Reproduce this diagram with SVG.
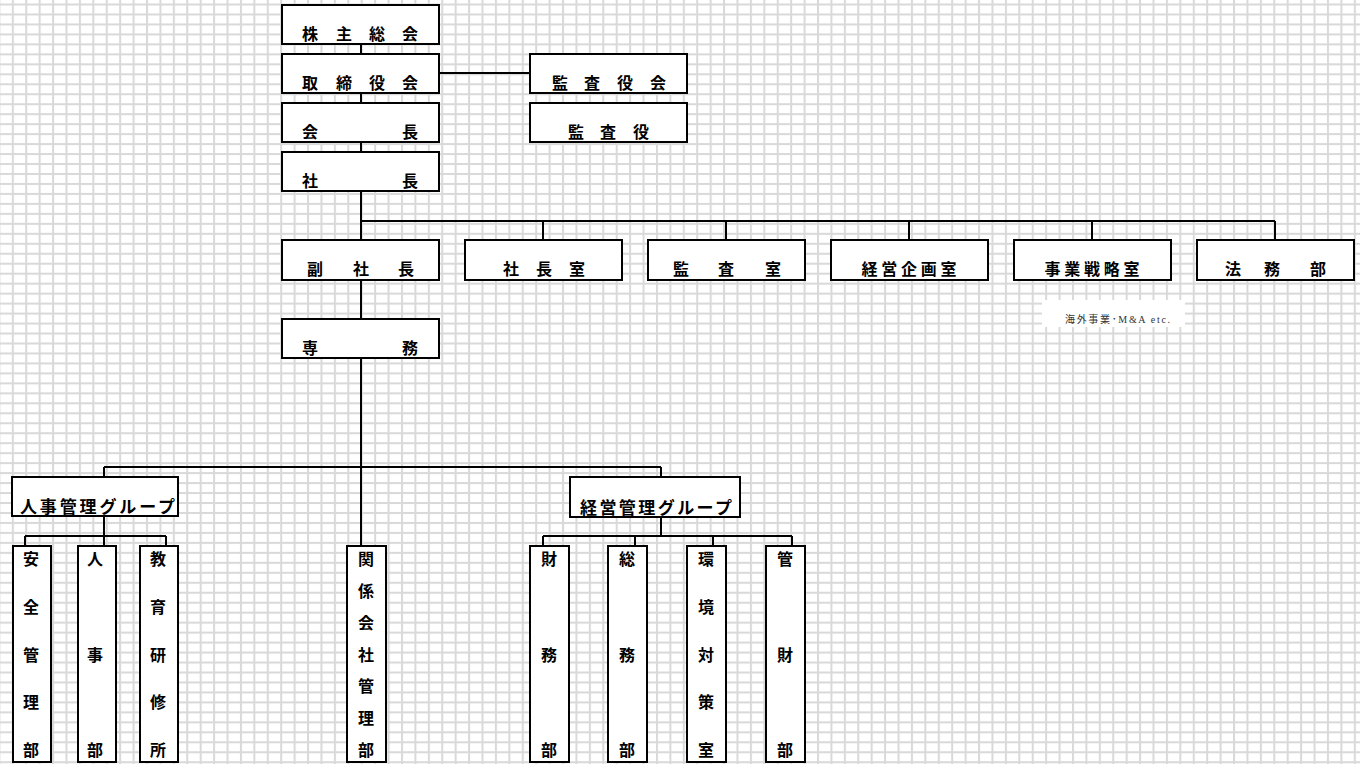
<svg xmlns="http://www.w3.org/2000/svg" width="1360" height="764" viewBox="0 0 1360 764">
<defs>
<pattern id="grid" patternUnits="userSpaceOnUse" x="11.8" y="3.5" width="13.42" height="9.97">
<rect x="0" y="0" width="13.42" height="9.97" fill="#ffffff"/>
<rect x="0" y="0" width="2" height="9.97" fill="#d9d9d9"/>
<rect x="0" y="0" width="13.42" height="2" fill="#d9d9d9"/>
</pattern>
</defs>
<style>
.box{fill:#ffffff;stroke:#000000;stroke-width:2}
.t{font-family:"Noto Sans CJK JP","Noto Sans",sans-serif;font-size:16px;font-weight:700;fill:#000000;text-anchor:middle}
.g{font-family:"Noto Sans CJK JP","Noto Sans",sans-serif;font-size:17px;font-weight:700;fill:#000000}
.note{font-family:"Liberation Serif","Noto Sans CJK JP",serif;font-size:10px;fill:#333333}
.c{stroke:#000000;stroke-width:2;fill:none}
</style>
<rect x="0" y="0" width="1360" height="764" fill="url(#grid)"/>

<g id="connectors">
<path class="c" d="M361 44V54M361 93V103M361 142V152M361 191V240M439 73H530"/>
<path class="c" d="M361 221H1275M543 221V240M726 221V240M909 221V240M1092 221V240M1275 221V240"/>
<path class="c" d="M361 280V319M361 358V546"/>
<path class="c" d="M104 467H661M104 467V477M661 467V477"/>
<path class="c" d="M104 516V546M25 536H166M25 536V546M166 536V546"/>
<path class="c" d="M661 517V536M543 536H792M543 536V546M635 536V546M713 536V546M792 536V546"/>
</g>

<g id="kabunushi"><rect class="box" x="282" y="5" width="157" height="39"/><text class="t" x="310 344 377 410" y="40">株主総会</text></g>
<g id="torishimariyakukai"><rect class="box" x="282" y="54" width="157" height="39"/><text class="t" x="310 344 377 410" y="89">取締役会</text></g>
<g id="kaicho"><rect class="box" x="282" y="103" width="157" height="39"/><text class="t" x="310 410" y="138">会長</text></g>
<g id="shacho"><rect class="box" x="282" y="152" width="157" height="39"/><text class="t" x="310 410" y="187">社長</text></g>
<g id="kansayakukai"><rect class="box" x="530" y="54" width="157" height="39"/><text class="t" x="560 592 625 658" y="89">監査役会</text></g>
<g id="kansayaku"><rect class="box" x="530" y="103" width="157" height="39"/><text class="t" x="576 608 641" y="138">監査役</text></g>

<g id="fukushacho"><rect class="box" x="282" y="240" width="157" height="40"/><text class="t" x="315 361 406" y="275">副社長</text></g>
<g id="shachoshitsu"><rect class="box" x="465" y="240" width="157" height="40"/><text class="t" x="511 544 577" y="275">社長室</text></g>
<g id="kansashitsu"><rect class="box" x="648" y="240" width="157" height="40"/><text class="t" x="681 726 773" y="275">監査室</text></g>
<g id="keieikikaku"><rect class="box" x="831" y="240" width="157" height="40"/><text class="t" x="909" y="275" textLength="95">経営企画室</text></g>
<g id="jigyosenryaku"><rect class="box" x="1014" y="240" width="157" height="40"/><text class="t" x="1092" y="275" textLength="95">事業戦略室</text></g>
<g id="homubu"><rect class="box" x="1197" y="240" width="157" height="40"/><text class="t" x="1233 1272 1318" y="275">法務部</text></g>

<g id="note"><rect x="1042" y="300" width="143" height="27" fill="#ffffff"/><text class="note" x="1065" y="323" textLength="105">海外事業･M&amp;A etc.</text></g>

<g id="senmu"><rect class="box" x="282" y="319" width="157" height="39"/><text class="t" x="310 410" y="354">専務</text></g>

<g id="jinjikanri"><rect class="box" x="12" y="477" width="166" height="39"/><text class="g" x="20" y="513" textLength="155">人事管理グループ</text></g>
<g id="keieikanri"><rect class="box" x="570" y="477" width="170" height="40"/><text class="g" x="580" y="514" textLength="152">経営管理グループ</text></g>

<g id="anzenkanri"><rect class="box" x="13" y="546" width="38" height="216"/><text class="t" x="31 31 31 31 31" y="565 613 661 708 756">安全管理部</text></g>
<g id="jinjibu"><rect class="box" x="78" y="546" width="38" height="216"/><text class="t" x="95 95 95" y="565 661 756">人事部</text></g>
<g id="kyoiku"><rect class="box" x="140" y="546" width="38" height="216"/><text class="t" x="158 158 158 158 158" y="565 613 661 708 756">教育研修所</text></g>
<g id="kankeigaisha"><rect class="box" x="347" y="546" width="39" height="216"/><text class="t" x="366 366 366 366 366 366 366" y="565 597 629 661 692 724 756">関係会社管理部</text></g>
<g id="zaimu"><rect class="box" x="530" y="546" width="39" height="216"/><text class="t" x="549 549 549" y="565 661 756">財務部</text></g>
<g id="somu"><rect class="box" x="608" y="546" width="39" height="216"/><text class="t" x="627 627 627" y="565 661 756">総務部</text></g>
<g id="kankyo"><rect class="box" x="687" y="546" width="39" height="216"/><text class="t" x="706 706 706 706 706" y="565 613 661 708 756">環境対策室</text></g>
<g id="kanzai"><rect class="box" x="766" y="546" width="39" height="216"/><text class="t" x="785 785 785" y="565 661 756">管財部</text></g>
</svg>
